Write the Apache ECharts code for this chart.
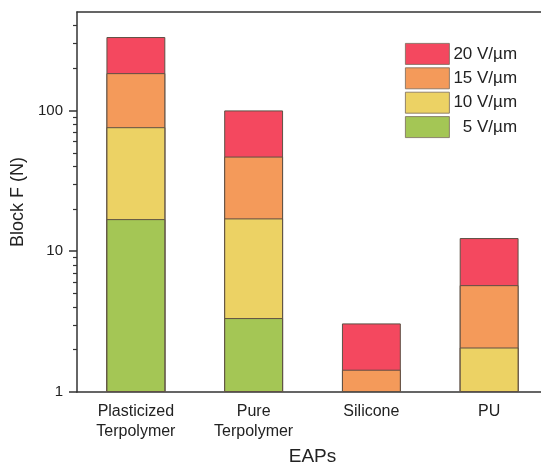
<!DOCTYPE html>
<html>
<head>
<meta charset="utf-8">
<script src="https://cdn.jsdelivr.net/npm/echarts@6/dist/echarts.min.js"></script>
<style>
  html, body { margin: 0; padding: 0; background: #fff; }
  #chart { width: 541px; height: 466px; }
</style>
</head>
<body>
<div id="chart"></div>
<script>
// Blocking force of each EAP, read as the total height reached at each field strength
const categories = ['Plasticized\nTerpolymer', 'Pure\nTerpolymer', 'Silicone', 'PU'];
const fieldNames = ['20 V/µm', '15 V/µm', '10 V/µm', '5 V/µm'];
const force20 = [332, 100, 3.07, 12.4];
const force15 = [184, 47, 1.44, 5.74];
const force10 = [76, 17.1, '-', 2.07];
const force5 = [16.9, 3.35, '-', '-'];
const majorTicks = [1, 10, 100];
const minorTicks = [2, 3, 4, 5, 6, 7, 8, 9, 20, 30, 40, 50, 60, 70, 80, 90, 200, 300, 400];

const colors = ['#f4485f', '#f49a5a', '#ecd264', '#a4c655'];
const edge = '#5e5044';
const axisColor = '#333';
const font = 'Liberation Sans, Arial, sans-serif';

const chart = echarts.init(document.getElementById('chart'), null, { renderer: 'canvas' });

const values = [force20, force15, force10, force5];
const series = fieldNames.map((name, i) => ({
  name: name,
  type: 'bar',
  xAxisIndex: 0,
  yAxisIndex: 0,
  data: values[i],
  barWidth: '50%',
  barGap: '-100%',
  itemStyle: { color: colors[i], borderColor: edge, borderWidth: 1 },
  emphasis: { disabled: true }
}));

chart.setOption({
  animation: false,
  backgroundColor: '#fff',
  grid: { left: 77, top: 12, width: 471, height: 380, outerBoundsMode: 'none', containLabel: false },
  legend: {
    left: 405,
    top: 43,
    orient: 'vertical',
    icon: 'rect',
    itemWidth: 44,
    itemHeight: 21,
    itemGap: 2.6,
    padding: 0,
    selectedMode: false,
    formatter: n => n.startsWith('5 ') ? '  ' + n : n,
    itemStyle: { borderWidth: 0.8, borderColor: '#7a6a5a' },
    textStyle: { fontFamily: font, fontSize: 17, color: '#222', padding: [0, 0, 0, -1] }
  },
  xAxis: [
    {
      type: 'category',
      position: 'bottom',
      data: categories,
      name: 'EAPs',
      nameLocation: 'middle',
      nameGap: 55,
      nameTextStyle: { fontFamily: font, fontSize: 19, color: '#222' },
      axisLine: { lineStyle: { color: axisColor, width: 1.5 } },
      axisTick: { alignWithLabel: true, length: 6, lineStyle: { color: axisColor, width: 1.5 } },
      axisLabel: { fontFamily: font, fontSize: 16, lineHeight: 20, color: '#222', margin: 10 }
    },
    {
      type: 'category',
      position: 'top',
      data: categories,
      axisLine: { lineStyle: { color: axisColor, width: 1.5 } },
      axisTick: { alignWithLabel: true, inside: true, length: 6, lineStyle: { color: axisColor, width: 1.5 } },
      axisLabel: { show: false }
    },
    {
      type: 'category',
      position: 'top',
      data: ['a', 'b', 'c', 'd', 'e', 'f', 'g', 'h'],
      axisLine: { show: false },
      axisTick: { inside: true, length: 3, lineStyle: { color: axisColor, width: 1.5 } },
      axisLabel: { show: false }
    }
  ],
  yAxis: [
    {
      type: 'log',
      logBase: 10,
      min: 1,
      max: 500,
      name: 'Block F (N)',
      nameLocation: 'middle',
      nameGap: 46,
      nameTextStyle: { fontFamily: font, fontSize: 18, color: '#222' },
      axisLine: { show: true, lineStyle: { color: axisColor, width: 1.5 } },
      axisTick: { show: true, length: 8, customValues: majorTicks, lineStyle: { color: axisColor, width: 1.5 } },
      axisLabel: { fontFamily: font, fontSize: 15, color: '#222', margin: 14, customValues: majorTicks },
      splitLine: { show: false }
    },
    {
      type: 'log',
      logBase: 10,
      min: 1,
      max: 500,
      position: 'left',
      axisLine: { show: false },
      axisTick: { show: true, length: 4, customValues: minorTicks, lineStyle: { color: axisColor, width: 1.2 } },
      axisLabel: { show: false },
      splitLine: { show: false }
    }
  ],
  series: series
});
</script>
</body>
</html>
